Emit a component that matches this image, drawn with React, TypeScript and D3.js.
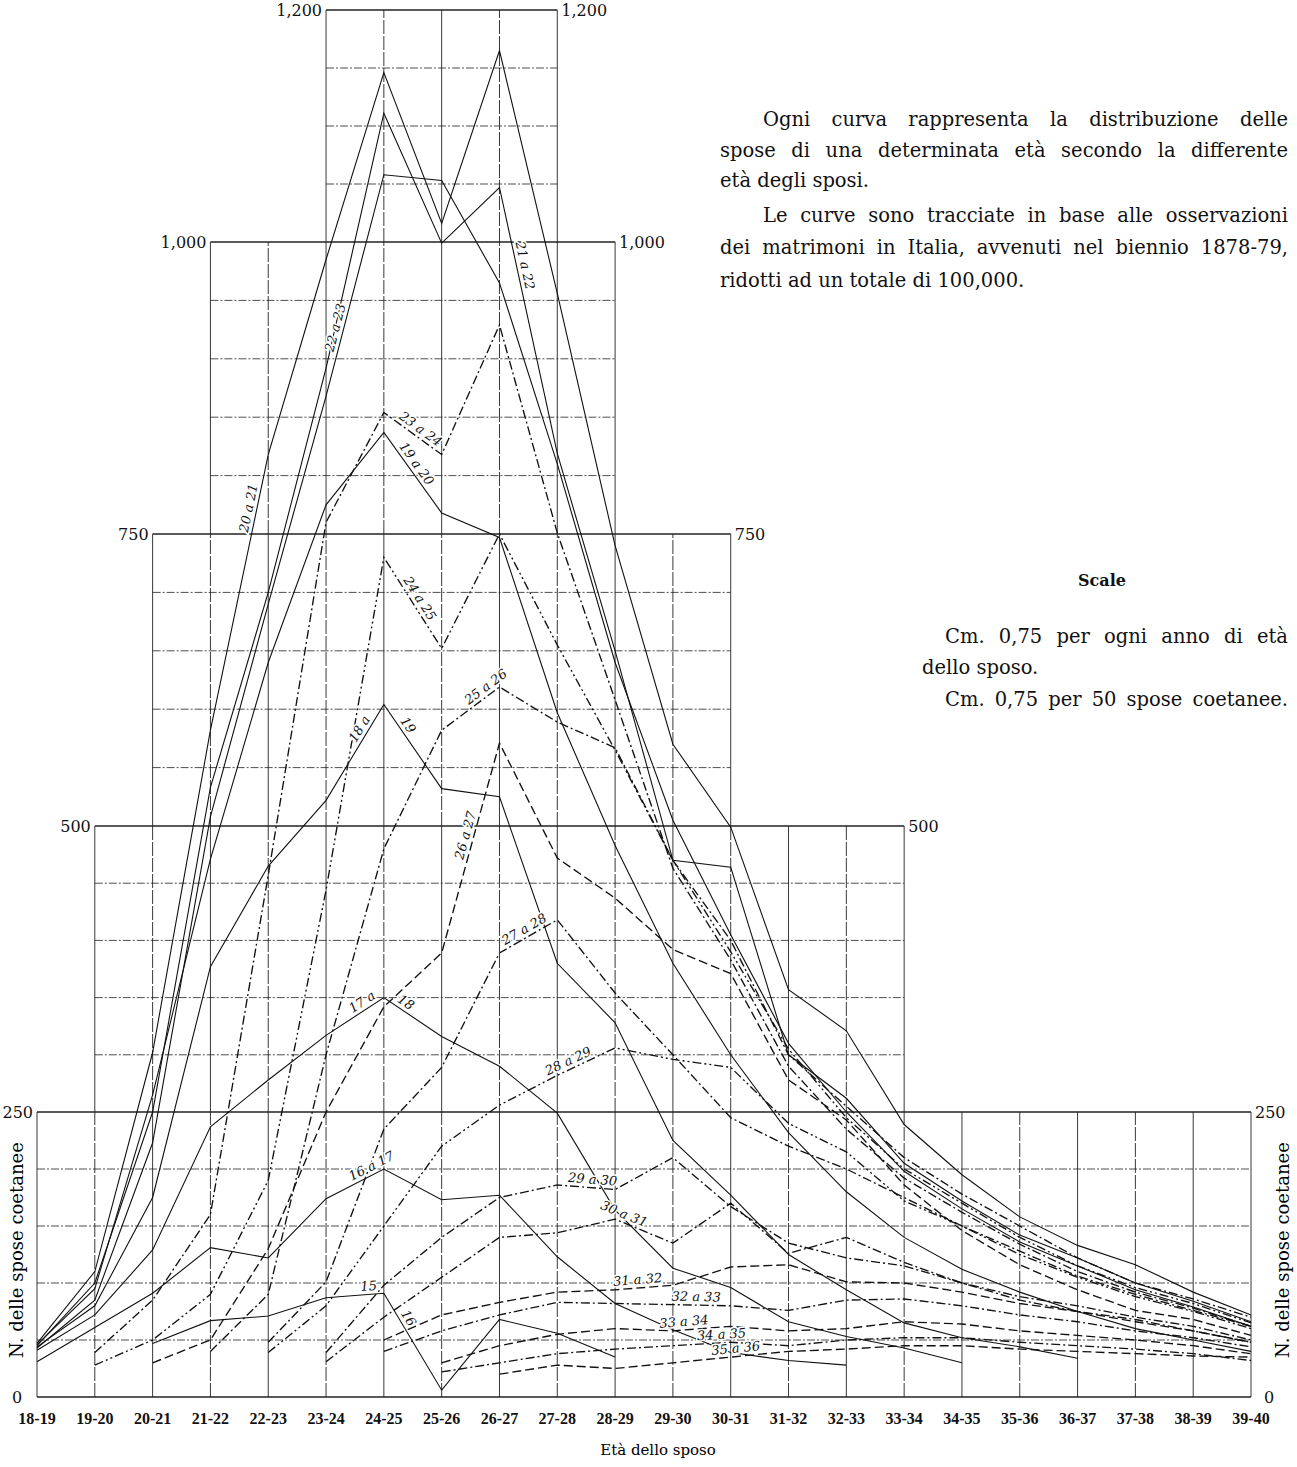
import { useEffect, useRef } from 'react';
import * as d3 from 'd3';

// età dello sposo (asse x)
const categories = [
  '18-19', '19-20', '20-21', '21-22', '22-23', '23-24', '24-25', '25-26', '26-27', '27-28', '28-29',
  '29-30', '30-31', '31-32', '32-33', '33-34', '34-35', '35-36', '36-37', '37-38', '38-39', '39-40',
];

// livelli della scala verticale
const yTicks = [0, 250, 500, 750, 1000, 1200];
const yTickLabels = ['0', '250', '500', '750', '1,000', '1,200'];

// reticolato a gradini: limite superiore e colonne coperte da ogni fascia
const bandTop = [250, 500, 750, 1000, 1200];
const bandFrom = [0, 1, 2, 3, 5];
const bandTo = [21, 15, 12, 10, 9];

// spose per età (una curva per età della sposa), valori per età dello sposo
const N = null;
const spose15 = [N, N, 47, 67, 71, 87, 91, 6, 68, 56, 35, N, N, N, N, N, N, N, N, N, N, N];
const spose16 = [31, 61, 91, 131, 122, 174, 200, 173, 177, 123, 82, 59, 39, 32, 28, N, N, N, N, N, N, N];
const spose17 = [41, 72, 129, 237, 278, 317, 350, 316, 290, 249, 164, 113, 96, 66, 53, 43, 30, N, N, N, N, N];
const spose18 = [44, 80, 175, 377, 465, 522, 604, 532, 525, 380, 328, 225, 177, 125, 94, 65, 52, 44, 34, N, N, N];
const spose19 = [46, 95, 265, 471, 640, 775, 837, 768, 747, 597, 483, 380, 300, 232, 180, 140, 112, 92, 75, 60, 50, 40];
const spose20 = [47, 110, 302, 582, 818, 985, 1146, 1016, 1165, 956, 740, 570, 499, 357, 321, 239, 195, 158, 133, 116, 92, 72];
const spose21 = [45, 100, 250, 533, 700, 892, 1111, 999, 1047, 819, 650, 470, 464, 300, 262, 205, 172, 142, 122, 100, 84, 66];
const spose22 = [43, 85, 223, 508, 690, 868, 1058, 1053, 965, 810, 640, 505, 405, 310, 250, 198, 165, 136, 115, 94, 79, 62];
const spose23 = [N, 39, 85, 160, 457, 760, 854, 818, 929, 751, 608, 463, 383, 290, 235, 192, 162, 134, 110, 92, 78, 62];
const spose24 = [N, 28, 50, 90, 190, 444, 730, 652, 750, 655, 565, 470, 390, 305, 245, 200, 170, 140, 115, 96, 82, 65];
const spose25 = [N, N, N, 40, 90, 300, 480, 582, 619, 589, 567, 470, 400, 300, 255, 210, 178, 150, 122, 100, 86, 70];
const spose26 = [N, N, 30, 50, 130, 250, 342, 389, 571, 472, 437, 392, 371, 278, 243, 186, 146, 116, 94, 76, 68, 54];
const spose27 = [N, N, N, N, 48, 101, 235, 289, 389, 418, 354, 300, 245, 220, 200, 175, 150, 128, 106, 90, 76, 62];
const spose28 = [N, N, N, N, 39, 80, 150, 220, 256, 282, 306, 296, 289, 240, 215, 172, 150, 125, 105, 88, 75, 60];
const spose29 = [N, N, N, N, N, 39, 98, 140, 175, 186, 182, 210, 167, 135, 122, 115, 100, 88, 80, 70, 62, 50];
const spose30 = [N, N, N, N, N, 31, 70, 105, 140, 144, 156, 135, 170, 126, 140, 118, 100, 85, 75, 68, 58, 48];
const spose31 = [N, N, N, N, N, N, 50, 72, 83, 92, 94, 98, 114, 116, 101, 100, 92, 82, 75, 66, 58, 48];
const spose32 = [N, N, N, N, N, N, 40, 58, 72, 83, 82, 81, 80, 76, 85, 86, 80, 72, 66, 58, 52, 44];
const spose33 = [N, N, N, N, N, N, N, 30, 45, 55, 60, 58, 62, 58, 60, 66, 64, 58, 54, 50, 45, 38];
const spose34 = [N, N, N, N, N, N, N, 22, 30, 38, 42, 45, 48, 45, 50, 52, 52, 48, 45, 42, 38, 32];
const spose35 = [N, N, N, N, N, N, N, N, 20, 28, 25, 30, 35, 40, 42, 45, 45, 42, 40, 38, 36, 35];

const curves = [
  { values: spose15, style: 'solid' },
  { values: spose16, style: 'solid' },
  { values: spose17, style: 'solid' },
  { values: spose18, style: 'solid' },
  { values: spose19, style: 'solid' },
  { values: spose20, style: 'solid' },
  { values: spose21, style: 'solid' },
  { values: spose22, style: 'solid' },
  { values: spose23, style: 'dashdot' },
  { values: spose24, style: 'dashdotdot' },
  { values: spose25, style: 'dashdot' },
  { values: spose26, style: 'dash' },
  { values: spose27, style: 'dashdot' },
  { values: spose28, style: 'dashdotdot' },
  { values: spose29, style: 'dashdot' },
  { values: spose30, style: 'dashdot' },
  { values: spose31, style: 'dash' },
  { values: spose32, style: 'dashdot' },
  { values: spose33, style: 'dash' },
  { values: spose34, style: 'dashdot' },
  { values: spose35, style: 'dash' },
];

// scritte a mano lungo le curve: curva, testo, tratto, posizione sul tratto
const curveTags: [number, string, number, number][] = [
  [0, '15', 5, 0.75], [0, '16', 6, 0.3],
  [1, '16 a 17', 5, 0.85],
  [2, '17 a', 5, 0.7], [2, '18', 6, 0.3],
  [3, '18 a', 5, 0.7], [3, '19', 6, 0.3],
  [4, '19 a 20', 6, 0.45],
  [5, '20 a 21', 3, 0.8],
  [6, '21 a 22', 8, 0.3],
  [7, '22 a 23', 5, 0.3],
  [8, '23 a 24', 6, 0.55],
  [9, '24 a 25', 6, 0.5],
  [10, '25 a 26', 7, 0.85],
  [11, '26 a 27', 7, 0.55],
  [12, '27 a 28', 8, 0.5],
  [13, '28 a 29', 9, 0.25],
  [14, '29 a 30', 9, 0.6],
  [15, '30 a 31', 10, 0.1],
  [16, '31 a 32', 10, 0.4],
  [17, '32 a 33', 11, 0.4],
  [18, '33 a 34', 11, 0.2],
  [19, '34 a 35', 11, 0.85],
  [20, '35 a 36', 12, 0.1],
];

const dashes: Record<string, string | null> = {
  solid: null,
  dash: '9,4',
  dashdot: '9,3,2,3',
  dashdotdot: '9,3,2,3,2,3',
};

const SERIF = '"DejaVu Serif", "Liberation Serif", serif';

export default function App() {
  const svgRef = useRef<SVGSVGElement>(null);

  useEffect(() => {
    const svg = d3.select(svgRef.current);
    svg.selectAll('*').remove();

    const x = d3.scalePoint<string>().domain(categories).range([37, 1251]);
    const y = d3.scaleLinear().domain(yTicks).range([1397, 1112, 826, 534, 242, 10]);
    const cx = (i: number) => x(categories[i]) as number;

    // reticolato
    const grid = svg.append('g').attr('fill', 'none').attr('stroke', '#222');
    bandTop.forEach((hi, b) => {
      const lo = b === 0 ? 0 : bandTop[b - 1];
      const x0 = cx(bandFrom[b]);
      const x1 = cx(bandTo[b]);
      d3.range(bandFrom[b], bandTo[b] + 1).forEach((i, k) => {
        grid.append('line')
          .attr('x1', cx(i)).attr('x2', cx(i))
          .attr('y1', y(lo)).attr('y2', y(hi))
          .attr('stroke-width', 0.9)
          .attr('stroke-dasharray', k % 2 === 1 && i !== bandTo[b] ? '14,2' : null);
      });
      d3.range(lo + 50, hi, 50).forEach((v) => {
        grid.append('line')
          .attr('x1', x0).attr('x2', x1)
          .attr('y1', y(v)).attr('y2', y(v))
          .attr('stroke-width', 0.8)
          .attr('stroke-dasharray', '8,2,2,2');
      });
      grid.append('line')
        .attr('x1', x0).attr('x2', x1)
        .attr('y1', y(hi)).attr('y2', y(hi))
        .attr('stroke-width', 1.3);
    });
    grid.append('line')
      .attr('x1', cx(0)).attr('x2', cx(categories.length - 1))
      .attr('y1', y(0)).attr('y2', y(0))
      .attr('stroke-width', 1.3);

    // etichette della scala
    const ticks = svg.append('g').attr('font-family', SERIF).attr('font-size', 16).attr('fill', '#111');
    yTicks.forEach((v, k) => {
      const b = Math.max(0, k - 1);
      const left = k === 0 ? cx(0) - 20 : cx(bandFrom[b]) - 4;
      const right = k === 0 ? cx(21) + 18 : cx(bandTo[b]) + 4;
      ticks.append('text').attr('x', left).attr('y', y(v) + 6)
        .attr('text-anchor', k === 0 ? 'middle' : 'end').text(yTickLabels[k]);
      ticks.append('text').attr('x', right).attr('y', y(v) + 6)
        .attr('text-anchor', k === 0 ? 'middle' : 'start').text(yTickLabels[k]);
    });

    // età dello sposo
    const xl = svg.append('g').attr('font-family', '"Liberation Serif", serif')
      .attr('font-size', 16).attr('font-weight', 'bold').attr('fill', '#111');
    categories.forEach((c) => {
      xl.append('text').attr('x', x(c) as number).attr('y', 1424).attr('text-anchor', 'middle').text(c);
    });
    svg.append('text').attr('x', 658).attr('y', 1455).attr('text-anchor', 'middle')
      .attr('font-family', SERIF).attr('font-size', 15).text('Età dello sposo');

    [23, 1289].forEach((tx) => {
      svg.append('text')
        .attr('transform', `translate(${tx},${1250}) rotate(-90)`)
        .attr('text-anchor', 'middle')
        .attr('font-family', SERIF).attr('font-size', 18)
        .text('N. delle spose coetanee');
    });

    // curve
    const lineGen = d3.line<number | null>()
      .defined((d) => d != null)
      .x((_, i) => cx(i))
      .y((d) => y(d as number));
    const g = svg.append('g').attr('fill', 'none').attr('stroke', '#111');
    curves.forEach((c) => {
      g.append('path')
        .attr('d', lineGen(c.values))
        .attr('stroke-width', c.style === 'solid' ? 1.1 : 1.35)
        .attr('stroke-dasharray', dashes[c.style]);
    });

    // scritte lungo le curve
    const tags = svg.append('g').attr('font-family', SERIF).attr('font-style', 'italic')
      .attr('font-size', 13).attr('fill', '#111');
    curveTags.forEach(([ci, text, seg, t]) => {
      const v = curves[ci].values;
      const x0 = cx(seg), y0 = y(v[seg] as number);
      const x1 = cx(seg + 1), y1 = y(v[seg + 1] as number);
      const px = x0 + (x1 - x0) * t;
      const py = y0 + (y1 - y0) * t;
      let ang = (Math.atan2(y1 - y0, x1 - x0) * 180) / Math.PI;
      if (ang > 90) ang -= 180;
      if (ang < -90) ang += 180;
      tags.append('text')
        .attr('transform', `translate(${px},${py}) rotate(${ang})`)
        .attr('y', -4)
        .attr('text-anchor', 'middle')
        .attr('stroke', '#fff').attr('stroke-width', 3).attr('paint-order', 'stroke')
        .text(text);
    });

    // testo esplicativo (righe giustificate allargando gli spazi)
    const note = svg.append('g').attr('font-family', SERIF).attr('font-size', 19.5).attr('fill', '#111');
    const para: [string, number, number, number | null][] = [
      ['Ogni curva rappresenta la distribuzione delle', 763, 126, 525],
      ['spose di una determinata età secondo la differente', 720, 157, 568],
      ['età degli sposi.', 720, 187, null],
      ['Le curve sono tracciate in base alle osservazioni', 763, 222, 525],
      ['dei matrimoni in Italia, avvenuti nel biennio 1878-79,', 720, 254, 568],
      ['ridotti ad un totale di 100,000.', 720, 287, null],
      ['Cm. 0,75 per ogni anno di età', 945, 643, 343],
      ['dello sposo.', 922, 674, null],
      ['Cm. 0,75 per 50 spose coetanee.', 945, 706, 343],
    ];
    para.forEach(([s, tx, ty, w]) => {
      const el = note.append('text').attr('x', tx).attr('y', ty).text(s);
      if (w) {
        const natural = (el.node() as SVGTextElement).getComputedTextLength();
        const spaces = s.split(' ').length - 1;
        const ws = (w - natural) / spaces;
        if (ws > 0) el.attr('word-spacing', ws);
        else el.attr('textLength', w).attr('lengthAdjust', 'spacingAndGlyphs');
      }
    });
    note.append('text').attr('x', 1102).attr('y', 586).attr('text-anchor', 'middle')
      .attr('font-weight', 'bold').attr('font-size', 16).text('Scale');
  }, []);

  return (
    <svg
      ref={svgRef}
      width={1297}
      height={1467}
      style={{ position: 'absolute', left: 0, top: 0, background: '#fff' }}
    />
  );
}
